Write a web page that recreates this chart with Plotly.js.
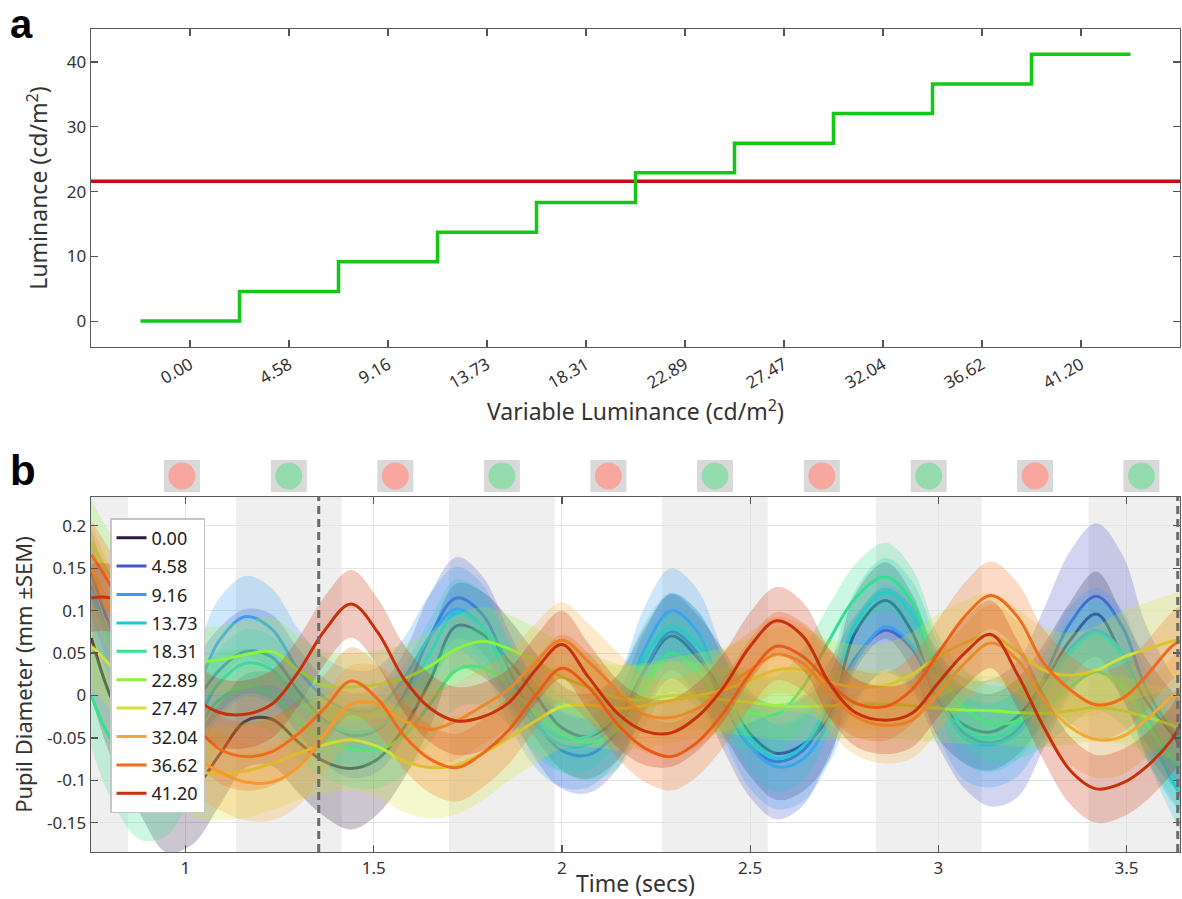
<!DOCTYPE html>
<html><head><meta charset="utf-8">
<script src="https://cdn.plot.ly/plotly-3.0.1.min.js"></script>
<style>html,body{margin:0;padding:0;background:#fff}#chart{width:1182px;height:899px}</style>
</head><body><div id="chart"></div>
<script>
// ---------- Panel a data ----------
const lumCategories = ['0.00','4.58','9.16','13.73','18.31','22.89','27.47','32.04','36.62','41.20'];
const lumValues = [0, 4.58, 9.16, 13.73, 18.31, 22.89, 27.47, 32.04, 36.62, 41.20];
const referenceLuminance = 21.6;

// ---------- Panel b data ----------
const timeSecs = [0.75,0.80,0.88,0.95,1.02,1.09,1.16,1.23,1.30,1.37,1.44,1.51,1.58,1.65,1.72,1.79,1.86,1.93,2.00,2.07,2.15,2.22,2.29,2.36,2.43,2.50,2.57,2.64,2.71,2.78,2.86,2.93,3.00,3.07,3.14,3.21,3.28,3.35,3.42,3.49,3.55,3.62,3.645];
const seriesLabels = ['0.00','4.58','9.16','13.73','18.31','22.89','27.47','32.04','36.62','41.20'];

const pupil_0_00  = [0.068,0.000,-0.070,-0.115,-0.110,-0.070,-0.030,-0.028,-0.055,-0.078,-0.086,-0.075,-0.038,0.018,0.082,0.072,0.040,0.000,-0.038,-0.048,-0.025,0.030,0.070,0.045,0.003,-0.045,-0.068,-0.058,-0.025,0.075,0.112,0.075,-0.005,-0.035,-0.043,-0.025,0.015,0.065,0.096,0.045,-0.005,-0.045,-0.060];
const pupil_4_58  = [0.145,0.080,0.000,-0.040,-0.010,0.030,0.052,0.045,0.005,-0.030,-0.047,-0.040,0.000,0.070,0.115,0.095,0.030,-0.030,-0.065,-0.070,-0.040,0.030,0.075,0.050,-0.010,-0.060,-0.078,-0.065,-0.015,0.045,0.077,0.055,-0.005,-0.045,-0.056,-0.040,0.020,0.085,0.117,0.080,0.010,-0.040,-0.052];
const pupil_9_16  = [0.130,0.070,0.020,-0.010,0.005,0.065,0.093,0.078,0.030,-0.003,-0.018,-0.015,0.020,0.070,0.102,0.080,0.015,-0.035,-0.058,-0.058,-0.025,0.055,0.100,0.075,0.000,-0.060,-0.084,-0.075,-0.030,0.040,0.081,0.060,0.000,-0.050,-0.058,-0.045,0.000,0.055,0.077,0.050,-0.020,-0.075,-0.085];
const pupil_13_73 = [0.120,0.060,-0.010,-0.040,-0.030,0.015,0.038,0.030,-0.005,-0.032,-0.043,-0.038,-0.005,0.050,0.097,0.080,0.020,-0.030,-0.050,-0.048,-0.015,0.045,0.081,0.060,0.005,-0.050,-0.074,-0.060,-0.005,0.085,0.122,0.095,0.020,-0.040,-0.050,-0.035,0.005,0.050,0.073,0.045,-0.030,-0.100,-0.118];
const pupil_18_31 = [0.000,-0.050,-0.090,-0.085,-0.045,-0.005,0.010,0.002,-0.030,-0.052,-0.063,-0.064,-0.048,-0.010,0.030,0.033,0.010,-0.020,-0.045,-0.055,-0.040,0.010,0.050,0.030,-0.008,-0.020,-0.022,0.010,0.065,0.115,0.140,0.110,0.030,-0.015,-0.033,-0.030,-0.015,0.010,0.028,0.010,-0.030,-0.075,-0.090];
const pupil_22_89 = [0.180,0.140,0.080,0.050,0.040,0.042,0.048,0.052,0.030,0.012,0.010,0.013,0.020,0.035,0.055,0.064,0.055,0.040,0.022,0.010,-0.003,-0.005,0.000,-0.001,-0.005,-0.008,-0.012,-0.013,-0.012,-0.010,-0.010,-0.012,-0.015,-0.017,-0.018,-0.020,-0.021,-0.018,-0.014,-0.018,-0.025,-0.035,-0.040];
const pupil_27_47 = [0.058,0.035,-0.020,-0.065,-0.088,-0.092,-0.089,-0.080,-0.068,-0.058,-0.052,-0.060,-0.077,-0.085,-0.082,-0.068,-0.050,-0.030,-0.013,-0.011,-0.015,-0.012,-0.006,0.000,0.007,0.018,0.030,0.030,0.016,0.010,0.012,0.025,0.046,0.062,0.071,0.052,0.030,0.024,0.030,0.045,0.054,0.064,0.067];
const pupil_32_04 = [0.150,0.100,0.020,-0.040,-0.070,-0.090,-0.102,-0.102,-0.085,-0.045,-0.010,-0.010,-0.030,-0.040,-0.030,-0.012,0.008,0.040,0.065,0.040,0.005,-0.022,-0.026,-0.015,0.008,0.030,0.048,0.038,0.003,-0.025,-0.035,-0.029,0.003,0.038,0.062,0.042,-0.005,-0.037,-0.052,-0.048,-0.029,-0.001,0.010];
const pupil_36_62 = [0.166,0.130,0.060,0.000,-0.033,-0.063,-0.072,-0.066,-0.045,-0.015,0.017,-0.004,-0.047,-0.075,-0.085,-0.068,-0.040,0.000,0.032,0.010,-0.035,-0.062,-0.072,-0.055,-0.020,0.026,0.058,0.046,0.015,-0.009,-0.013,0.007,0.050,0.093,0.118,0.093,0.038,0.007,-0.011,-0.003,0.022,0.058,0.065];
const pupil_41_20 = [0.115,0.115,0.090,0.045,0.000,-0.020,-0.022,-0.010,0.028,0.077,0.108,0.075,0.020,-0.015,-0.030,-0.025,-0.008,0.030,0.060,0.022,-0.022,-0.042,-0.044,-0.025,0.010,0.058,0.088,0.070,0.015,-0.020,-0.029,-0.021,0.015,0.050,0.072,0.025,-0.037,-0.088,-0.110,-0.103,-0.085,-0.052,-0.033];

const sem_0_00  = [0.070,0.070,0.070,0.070,0.065,0.060,0.055,0.055,0.060,0.065,0.072,0.065,0.060,0.055,0.050,0.050,0.050,0.050,0.050,0.050,0.050,0.050,0.050,0.050,0.050,0.050,0.055,0.055,0.050,0.045,0.045,0.045,0.045,0.045,0.045,0.045,0.045,0.045,0.050,0.050,0.050,0.050,0.050];
const sem_4_58  = [0.050,0.050,0.050,0.050,0.050,0.050,0.050,0.050,0.050,0.050,0.050,0.050,0.050,0.050,0.048,0.045,0.045,0.045,0.045,0.045,0.045,0.045,0.045,0.050,0.055,0.060,0.068,0.065,0.055,0.050,0.050,0.050,0.055,0.065,0.075,0.080,0.082,0.085,0.086,0.085,0.075,0.065,0.060];
const sem_9_16  = [0.050,0.050,0.050,0.050,0.050,0.050,0.048,0.048,0.048,0.048,0.048,0.048,0.048,0.050,0.050,0.050,0.050,0.050,0.050,0.050,0.050,0.050,0.050,0.050,0.050,0.050,0.050,0.050,0.050,0.050,0.050,0.050,0.050,0.050,0.050,0.050,0.050,0.050,0.050,0.050,0.050,0.050,0.050];
const sem_13_73 = [0.045,0.045,0.045,0.045,0.042,0.040,0.040,0.040,0.040,0.040,0.040,0.040,0.040,0.040,0.040,0.040,0.040,0.040,0.040,0.040,0.040,0.040,0.040,0.040,0.040,0.040,0.040,0.040,0.040,0.040,0.040,0.040,0.040,0.040,0.040,0.040,0.040,0.040,0.040,0.040,0.040,0.040,0.040];
const sem_18_31 = [0.060,0.070,0.080,0.080,0.070,0.055,0.045,0.045,0.045,0.045,0.045,0.045,0.045,0.045,0.045,0.045,0.045,0.045,0.045,0.045,0.045,0.045,0.045,0.045,0.045,0.045,0.045,0.045,0.042,0.040,0.040,0.040,0.042,0.045,0.045,0.045,0.045,0.045,0.045,0.045,0.045,0.045,0.045];
const sem_22_89 = [0.050,0.050,0.045,0.045,0.040,0.040,0.040,0.040,0.040,0.040,0.040,0.040,0.040,0.040,0.040,0.040,0.040,0.040,0.040,0.040,0.040,0.040,0.040,0.040,0.040,0.040,0.040,0.040,0.040,0.040,0.040,0.040,0.040,0.040,0.040,0.040,0.040,0.040,0.040,0.040,0.040,0.040,0.040];
const sem_27_47 = [0.050,0.050,0.050,0.050,0.055,0.055,0.055,0.055,0.055,0.058,0.060,0.060,0.060,0.060,0.058,0.055,0.050,0.050,0.050,0.050,0.050,0.050,0.050,0.050,0.050,0.050,0.050,0.050,0.050,0.050,0.050,0.050,0.050,0.050,0.050,0.050,0.050,0.050,0.052,0.055,0.055,0.055,0.055];
const sem_32_04 = [0.050,0.050,0.048,0.045,0.045,0.045,0.045,0.045,0.045,0.045,0.045,0.045,0.045,0.045,0.045,0.045,0.045,0.045,0.045,0.045,0.045,0.045,0.045,0.045,0.045,0.045,0.045,0.045,0.045,0.045,0.045,0.045,0.045,0.045,0.045,0.045,0.045,0.045,0.045,0.045,0.045,0.045,0.045];
const sem_36_62 = [0.040,0.040,0.040,0.040,0.040,0.040,0.040,0.040,0.040,0.040,0.040,0.040,0.040,0.040,0.040,0.040,0.040,0.040,0.040,0.040,0.040,0.040,0.040,0.040,0.040,0.040,0.040,0.040,0.040,0.040,0.040,0.040,0.040,0.040,0.040,0.040,0.040,0.040,0.040,0.040,0.040,0.040,0.040];
const sem_41_20 = [0.040,0.040,0.040,0.040,0.040,0.040,0.040,0.040,0.040,0.040,0.040,0.040,0.040,0.040,0.040,0.040,0.040,0.040,0.040,0.040,0.040,0.040,0.040,0.040,0.040,0.040,0.040,0.040,0.040,0.040,0.040,0.040,0.040,0.040,0.040,0.040,0.040,0.040,0.040,0.040,0.040,0.040,0.040];

// stimulus periods (grey bands) and cue alternation
const stimBandStarts = [0.566, 1.134, 1.700, 2.266, 2.834, 3.399];
const stimBandWidth = 0.281;
const dashedMarkers = [1.354, 3.636];

// ---------- styles ----------
const seriesColors = ['#2e1a3e','#4757c9','#3c9ef2','#1fc6d8','#33e08d','#8ef23e','#d5e233','#f7a734','#f26a1c','#c8300b'];
const allPupil = [pupil_0_00,pupil_4_58,pupil_9_16,pupil_13_73,pupil_18_31,pupil_22_89,pupil_27_47,pupil_32_04,pupil_36_62,pupil_41_20];
const allSem = [sem_0_00,sem_4_58,sem_9_16,sem_13_73,sem_18_31,sem_22_89,sem_27_47,sem_32_04,sem_36_62,sem_41_20];

function rgba(hex, a){
  const n = parseInt(hex.slice(1),16);
  return 'rgba('+((n>>16)&255)+','+((n>>8)&255)+','+(n&255)+','+a+')';
}

const FONT = 'Noto Sans, Open Sans, sans-serif';
const traces = [];

// Panel a: step curve
const stepX = [-0.5].concat(lumValues.map((v,i)=>i), [lumValues.length-0.5]);
const stepY = [lumValues[0]].concat(lumValues, [lumValues[lumValues.length-1]]);
traces.push({
  x: stepX, y: stepY, type:'scatter', mode:'lines', xaxis:'x', yaxis:'y',
  line:{color:'#16c816', width:3.5, shape:'hvh'}, showlegend:false, hoverinfo:'skip'
});

// Panel b: bands + lines
seriesLabels.forEach((lab, i) => {
  const y = allPupil[i], s = allSem[i];
  const up = y.map((v,k)=>v+s[k]);
  const lo = y.map((v,k)=>v-s[k]);
  traces.push({
    x: timeSecs.concat(timeSecs.slice().reverse()),
    y: up.concat(lo.slice().reverse()),
    type:'scatter', mode:'lines', fill:'toself', xaxis:'x2', yaxis:'y2',
    fillcolor: rgba(seriesColors[i], 0.25), line:{width:0, shape:'spline', smoothing:1},
    showlegend:false, hoverinfo:'skip', legendgroup:'g'+i
  });
  traces.push({
    x: timeSecs, y: y, type:'scatter', mode:'lines', xaxis:'x2', yaxis:'y2', name: lab,
    line:{color: seriesColors[i], width:3, shape:'spline', smoothing:1}, legendgroup:'g'+i
  });
});

// shapes
const shapes = [];
shapes.push({type:'line', xref:'x domain', yref:'y', x0:0, x1:1, y0:referenceLuminance, y1:referenceLuminance,
  line:{color:'#c40c12', width:3.5}, layer:'below'});
stimBandStarts.forEach(s => {
  shapes.push({type:'rect', xref:'x2', yref:'y2 domain', x0:s, x1:s+stimBandWidth, y0:0, y1:1,
    fillcolor:'#efefef', line:{width:0}, layer:'below'});
});
dashedMarkers.forEach(t => {
  shapes.push({type:'line', xref:'x2', yref:'y2 domain', x0:t, x1:t, y0:0, y1:1,
    line:{color:'#6a6a6a', width:3, dash:'8px,5px'}, layer:'above'});
});
// cue icons: red between bands, green during bands
const cueY = (899-476)/899;
for (let i=1;i<stimBandStarts.length;i++){
  const redT = (stimBandStarts[i-1]+stimBandWidth + stimBandStarts[i])/2;
  const greenT = stimBandStarts[i] + stimBandWidth/2;
  [[redT,'#f7a79e'],[greenT,'#94dcae']].forEach(([t,c]) => {
    shapes.push({type:'rect', xref:'x2', yref:'paper', xsizemode:'pixel', ysizemode:'pixel',
      xanchor:t, yanchor:cueY, x0:-18, x1:18, y0:-16, y1:16, fillcolor:'#d9d9d9', line:{width:0}});
    shapes.push({type:'circle', xref:'x2', yref:'paper', xsizemode:'pixel', ysizemode:'pixel',
      xanchor:t, yanchor:cueY, x0:-13.5, x1:13.5, y0:-13.5, y1:13.5, fillcolor:c, line:{width:0}});
  });
}

const axisCommon = {
  ticks:'inside', ticklen:7, tickcolor:'#555', tickwidth:1.2,
  showline:true, linecolor:'#5a5a5a', linewidth:1.3, mirror:'ticks',
  zeroline:false, tickfont:{family:FONT, size:17, color:'#333'}
};

const layout = {
  width:1182, height:899,
  margin:{l:91, r:2, t:0, b:0},
  paper_bgcolor:'#fff', plot_bgcolor:'#fff',
  font:{family:FONT, color:'#333'},
  xaxis: Object.assign({}, axisCommon, {
    domain:[0,1], anchor:'y', range:[-1,10], tickvals: lumValues.map((v,i)=>i), ticktext: lumCategories,
    tickangle:-30, showgrid:false,
    title:{text:'Variable Luminance (cd/m<sup>2</sup>)', font:{family:FONT, size:23, color:'#333'}, standoff:4}
  }),
  yaxis: Object.assign({}, axisCommon, {
    domain:[0.614, 0.9677], anchor:'x', range:[-4, 45.1], tickvals:[0,10,20,30,40], showgrid:false,
    title:{text:'Luminance (cd/m<sup>2</sup>)', font:{family:FONT, size:23, color:'#333'}, standoff:12}
  }),
  xaxis2: Object.assign({}, axisCommon, {
    domain:[0,1], anchor:'y2', range:[0.749, 3.642], tickvals:[1,1.5,2,2.5,3,3.5],
    showgrid:true, gridcolor:'#e4e4e4', gridwidth:1,
    title:{text:'Time (secs)', font:{family:FONT, size:23, color:'#333'}, standoff:0}
  }),
  yaxis2: Object.assign({}, axisCommon, {
    domain:[0.0523, 0.4472], anchor:'x2', range:[-0.1844, 0.234],
    tickvals:[-0.15,-0.1,-0.05,0,0.05,0.1,0.15,0.2], ticktext:['-0.15','-0.1','-0.05','0','0.05','0.1','0.15','0.2'],
    showgrid:true, gridcolor:'#e4e4e4', gridwidth:1,
    title:{text:'Pupil Diameter (mm ±SEM)', font:{family:FONT, size:22, color:'#333'}, standoff:8}
  }),
  legend:{x:(110-91)/1089, y:(899-518)/899, xanchor:'left', yanchor:'top', bgcolor:'#ffffff', bordercolor:'#c6c6c6', borderwidth:1.5,
    font:{family:FONT, size:18, color:'#222'}, tracegroupgap:2, traceorder:'grouped', itemwidth:30},
  shapes: shapes,
  annotations:[
    {text:'<b>a</b>', xref:'paper', yref:'paper', x:(8-91)/1089, y:1, xanchor:'left', yanchor:'top', showarrow:false,
     font:{family:'Liberation Sans, Arial, sans-serif', size:40, color:'#000'}},
    {text:'<b>b</b>', xref:'paper', yref:'paper', x:(8-91)/1089, y:(899-470)/899, xanchor:'left', yanchor:'middle', showarrow:false,
     font:{family:'Liberation Sans, Arial, sans-serif', size:42, color:'#000'}}
  ],
  showlegend:true
};

Plotly.newPlot('chart', traces, layout, {staticPlot:true, displayModeBar:false});
</script>
</body></html>
